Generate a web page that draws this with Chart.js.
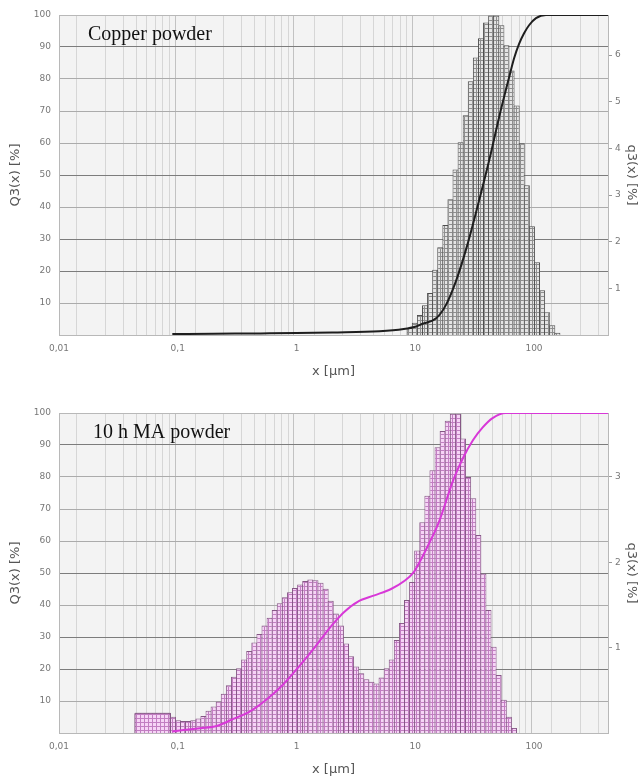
<!DOCTYPE html>
<html>
<head>
<meta charset="utf-8">
<title>Particle size distribution - Copper / 10 h MA</title>
<script src="https://cdn.jsdelivr.net/npm/chart.js@4.4.1/dist/chart.umd.min.js"></script>
<style>
  html, body { margin: 0; padding: 0; background: #fff; }
  body { width: 639px; height: 778px; position: relative; overflow: hidden; }
  .panel { position: absolute; left: 0; width: 639px; height: 380px; }
  #topPanel { top: 0; }
  #bottomPanel { top: 398px; }
</style>
</head>
<body>
<div class="panel" id="topPanel"><canvas id="copper"></canvas></div>
<div class="panel" id="bottomPanel"><canvas id="ma"></canvas></div>
<script>
/******************************************************************/
// DATOS
/******************************************************************/

// Copper powder : class mid sizes [µm] and q3 density [%]
var copperSizes = [8.990, 9.922, 10.95, 12.09, 13.34, 14.73, 16.25, 17.94, 19.80, 21.85,
                   24.12, 26.62, 29.38, 32.43, 35.79, 39.50, 43.60, 48.12, 53.12, 58.62,
                   64.71, 71.42, 78.82, 87.00, 96.02, 106.0, 117.0, 129.1, 142.5, 157.3];
var copperDens  = [0.15, 0.26, 0.43, 0.64, 0.90, 1.40, 1.88, 2.36, 2.91, 3.55,
                   4.13, 4.71, 5.44, 5.95, 6.36, 6.70, 6.85, 6.85, 6.64, 6.21,
                   5.67, 4.92, 4.11, 3.21, 2.33, 1.56, 0.96, 0.49, 0.21, 0.05];
// cumulative Q3 curve
var copperCumX = [0.09, 0.2, 0.5, 1, 2, 5, 8, 10, 11.5, 15, 18.2, 22.1, 26.9, 32.6,
                  41.9, 50.8, 61.7, 68, 74.9, 82.5, 90.9, 104, 126, 420];
var copperCumQ = [0.3, 0.4, 0.5, 0.6, 0.8, 1.2, 1.9, 2.6, 3.5, 5.2, 9.5, 17, 27, 38.5,
                  54.5, 68, 80.5, 86.5, 91, 94.3, 96.8, 99, 100, 100];

// 10 h MA powder
var maSizes = [0.09108, 0.1005, 0.1109, 0.1225, 0.1352, 0.1492, 0.1646, 0.1817, 0.2006, 0.2214,
               0.2443, 0.2697, 0.2976, 0.3285, 0.3626, 0.4002, 0.4417, 0.4875, 0.5381, 0.5939,
               0.6555, 0.7235, 0.7985, 0.8814, 0.9728, 1.074, 1.185, 1.308, 1.444, 1.593,
               1.759, 1.941, 2.142, 2.365, 2.610, 2.880, 3.180, 3.509, 3.873, 4.275,
               4.719, 5.208, 5.748, 6.345, 7.003, 7.729, 8.531, 9.416, 10.39, 11.47,
               12.66, 13.97, 15.42, 17.02, 18.79, 20.74, 22.89, 25.26, 27.88, 30.78,
               33.97, 37.49, 41.38, 45.67, 50.41, 55.64, 61.41, 67.78];
var maDens  = [0.19, 0.15, 0.14, 0.14, 0.15, 0.17, 0.20, 0.26, 0.31, 0.37,
               0.46, 0.56, 0.66, 0.76, 0.86, 0.96, 1.06, 1.16, 1.26, 1.35,
               1.44, 1.52, 1.59, 1.65, 1.70, 1.74, 1.78, 1.80, 1.79, 1.76,
               1.69, 1.55, 1.40, 1.26, 1.05, 0.90, 0.78, 0.70, 0.63, 0.60,
               0.58, 0.65, 0.76, 0.86, 1.09, 1.29, 1.56, 1.77, 2.14, 2.47,
               2.78, 3.08, 3.35, 3.54, 3.66, 3.74, 3.74, 3.45, 3.00, 2.75,
               2.32, 1.87, 1.44, 1.01, 0.68, 0.39, 0.19, 0.06];
// first (wide) class of the MA powder, drawn as outline
var maWideX = [0.0436, 0.0436, 0.0867, 0.0867];
var maWideQ = [0, 0.23, 0.23, 0];
var maCumX = [0.09, 0.154, 0.213, 0.294, 0.400, 0.553, 0.765, 1.04, 1.44, 1.74, 2.11, 2.55,
              3.27, 4.53, 6.26, 8.03, 9.72, 11.1, 13.5, 15.7, 20.9, 25.3, 30.6, 37.0,
              44.8, 57.5, 420];
var maCumQ = [0.5, 1.5, 2.2, 4.4, 6.6, 10.3, 15, 20.6, 27, 31, 34.8, 38,
              41, 43, 45, 47.4, 50.3, 54, 60.3, 65.6, 79, 86, 91.5, 95.5,
              98.4, 100, 100];

// ejes
var xMajor = [0.01, 0.1, 1, 10, 100];
var xMajorLabels = ['0,01', '0,1', '1', '10', '100'];
var xMult = [1, 2, 3, 4, 5, 6, 7, 8, 9];
var leftTicks = [0, 10, 20, 30, 40, 50, 60, 70, 80, 90, 100];
var darkRows = [20, 30, 50, 90];
var copperRightTicks = [1, 2, 3, 4, 5, 6];
var maRightTicks = [1, 2, 3];

Chart.defaults.font.family = "'DejaVu Sans', Verdana, sans-serif";
Chart.defaults.color = '#777';

/******************************************************************/
// patron tramado para las barras
function hatch(bg, mesh) {
  var c = document.createElement('canvas');
  c.width = 4; c.height = 4;
  var g = c.getContext('2d');
  g.fillStyle = bg;
  g.fillRect(0, 0, 4, 4);
  g.fillStyle = mesh;
  g.fillRect(0, 0, 4, 1);
  g.fillRect(0, 0, 1, 4);
  return g.createPattern(c, 'repeat');
}

// fondo gris del area de trazado
var plotBack = {
  id: 'plotBack',
  beforeDraw: function(chart, args, opts) {
    var a = chart.chartArea, ctx = chart.ctx;
    ctx.save();
    ctx.fillStyle = opts.color;
    ctx.fillRect(a.left, a.top, a.right - a.left, a.bottom - a.top);
    ctx.restore();
  }
};

// nombre de la muestra dentro del grafico
var sampleName = {
  id: 'sampleName',
  afterDatasetsDraw: function(chart, args, opts) {
    var a = chart.chartArea, ctx = chart.ctx;
    ctx.save();
    ctx.font = '20px "Liberation Serif", "Times New Roman", serif';
    ctx.fillStyle = '#111';
    ctx.textBaseline = 'alphabetic';
    ctx.fillText(opts.text, a.left + opts.dx, a.top + 25);
    ctx.restore();
  }
};

function pts(xs, ys) {
  return xs.map(function(x, i) { return {x: x, y: ys[i]}; });
}

function makeChart(id, name, dx, sizes, dens, cumX, cumQ, qMax, qTicks, look, wide) {
  var datasets = [
    {
      type: 'line', label: 'Q3', yAxisID: 'y', order: 0,
      data: pts(cumX, cumQ),
      borderColor: look.curve, borderWidth: 2, pointRadius: 0,
      cubicInterpolationMode: 'monotone', fill: false
    },
    {
      type: 'bar', label: 'q3', yAxisID: 'y2', order: 2,
      data: pts(sizes, dens),
      backgroundColor: hatch(look.fill, look.mesh),
      borderColor: look.edge, borderWidth: 1, borderSkipped: 'start',
      categoryPercentage: 1, barPercentage: 1.2
    }
  ];
  if (wide) {
    datasets.push({
      type: 'line', label: 'q3 first class', yAxisID: 'y2', order: 1,
      data: pts(wide.x, wide.y),
      borderColor: look.edge, borderWidth: 1, pointRadius: 0,
      backgroundColor: hatch(look.fill, look.mesh), fill: 'origin'
    });
  }

  return new Chart(document.getElementById(id), {
    type: 'bar',
    data: { datasets: datasets },
    options: {
      responsive: true,
      maintainAspectRatio: false,
      animation: false,
      layout: { padding: { top: 15, bottom: 1, left: 0, right: 0 } },
      plugins: {
        legend: { display: false },
        tooltip: { enabled: false },
        plotBack: { color: '#f3f3f3' },
        sampleName: { text: name, dx: dx }
      },
      scales: {
        x: {
          type: 'logarithmic', min: 0.01, max: 420,
          afterBuildTicks: function(s) {
            var t = [];
            xMajor.forEach(function(d) {
              xMult.forEach(function(m) {
                var v = +(d * m).toPrecision(3);
                if (v < 420) t.push({value: v});
              });
            });
            s.ticks = t;
          },
          afterFit: function(s) { s.height = 44; },
          grid: {
            drawTicks: false,
            color: function(c) {
              return (c.tick && xMajor.indexOf(c.tick.value) >= 0) ? '#c2c2c2' : '#d6d6d6';
            }
          },
          border: { color: '#b8b8b8' },
          ticks: {
            autoSkip: false, maxRotation: 0, padding: 8,
            font: { size: 9 }, color: '#777',
            callback: function(v) {
              var k = xMajor.indexOf(v);
              return k < 0 ? '' : xMajorLabels[k];
            }
          },
          title: { display: true, text: 'x [µm]', color: '#555', font: { size: 13 }, padding: { top: 0, bottom: 0 } }
        },
        y: {
          position: 'left', min: 0, max: 100,
          afterBuildTicks: function(s) { s.ticks = leftTicks.map(function(v) { return {value: v}; }); },
          afterFit: function(s) { s.width = 59; },
          grid: {
            drawTicks: false,
            color: function(c) {
              var v = c.tick ? c.tick.value : -1;
              if (v === 0 || v === 100) return '#b8b8b8';
              return darkRows.indexOf(v) >= 0 ? '#7c7c7c' : '#ababab';
            }
          },
          border: { color: '#b8b8b8' },
          ticks: {
            padding: 8, font: { size: 9 }, color: '#777',
            callback: function(v) { return v === 0 ? '' : v; }
          },
          title: { display: true, text: 'Q3(x) [%]', color: '#555', font: { size: 13 }, padding: { top: 8, bottom: 0 } }
        },
        y2: {
          position: 'right', min: 0, max: qMax,
          afterBuildTicks: function(s) { s.ticks = qTicks.map(function(v) { return {value: v}; }); },
          afterFit: function(s) { s.width = 31; },
          grid: { drawOnChartArea: false, drawTicks: true, tickLength: 4, color: '#999' },
          border: { color: '#b8b8b8' },
          ticks: { padding: 3, font: { size: 9 }, color: '#777' },
          title: { display: true, text: 'q3(x) [%]', color: '#555', font: { size: 13 }, padding: { top: 0, bottom: 0 } }
        }
      }
    },
    plugins: [plotBack, sampleName]
  });
}

window.copperChart = makeChart('copper', 'Copper powder', 29,
  copperSizes, copperDens, copperCumX, copperCumQ, 6.86, copperRightTicks,
  { curve: '#1e1e1e', fill: '#e4e4e4', mesh: '#8e8e8e', edge: '#4e4e4e' }, null);

window.maChart = makeChart('ma', '10 h MA powder', 34,
  maSizes, maDens, maCumX, maCumQ, 3.75, maRightTicks,
  { curve: '#d838d8', fill: '#f6d4f6', mesh: '#c27ec2', edge: '#855785' },
  { x: maWideX, y: maWideQ });
</script>
</body>
</html>
